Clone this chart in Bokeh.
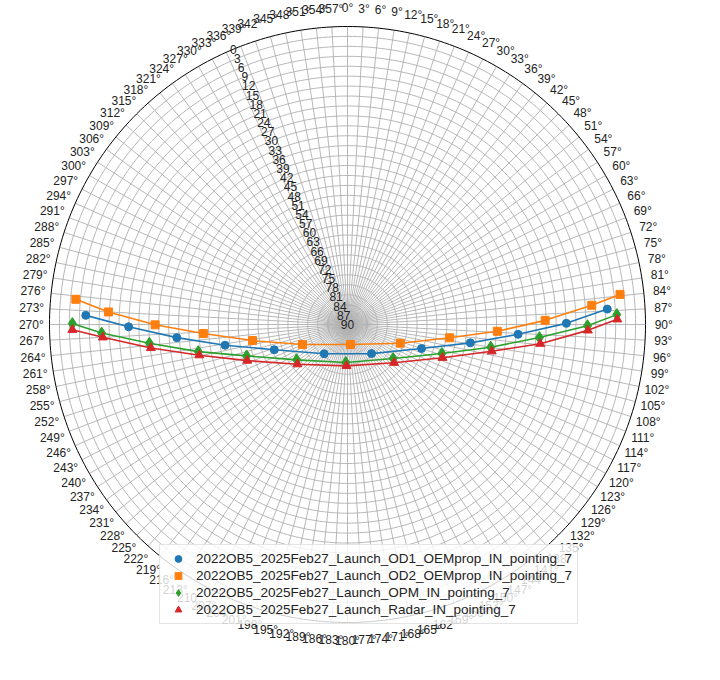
import numpy as np
from bokeh.plotting import figure
from bokeh.models import ColumnDataSource, Legend, LegendItem
from bokeh.embed import file_html
from bokeh.resources import INLINE

names = ["2022OB5_2025Feb27_Launch_OD1_OEMprop_IN_pointing_7",
         "2022OB5_2025Feb27_Launch_OD2_OEMprop_IN_pointing_7",
         "2022OB5_2025Feb27_Launch_OPM_IN_pointing_7",
         "2022OB5_2025Feb27_Launch_Radar_IN_pointing_7"]
od1_az = [272.0, 269.4, 265.6, 260.4, 251.0, 218.5, 140.4, 108.0, 98.5, 93.3, 89.7, 86.6]
od1_el = [10.9, 23.9, 38.3, 52.5, 66.6, 78.7, 78.6, 66.5, 52.5, 38.4, 23.9, 11.4]
od2_az = [275.3, 273.0, 269.9, 266.4, 260.4, 246.0, 171.5, 109.5, 97.4, 92.6, 88.8, 85.5, 83.7]
od2_el = [7.6, 17.7, 31.9, 46.4, 60.9, 75.1, 83.9, 73.1, 58.9, 44.7, 30.3, 16.0, 7.2]
opm_az = [270.2, 268.0, 264.6, 259.7, 252.7, 235.2, 182.6, 126.7, 107.1, 99.0, 93.9, 90.3, 87.9]
opm_el = [6.9, 15.7, 29.9, 44.2, 58.1, 71.3, 78.5, 72.8, 60.2, 46.2, 31.9, 17.5, 8.6]
rad_az = [268.9, 267.0, 263.2, 258.3, 250.2, 231.6, 181.4, 129.4, 109.3, 100.5, 95.7, 91.4, 88.9]
rad_el = [6.9, 16.0, 30.2, 44.3, 57.8, 70.7, 77.5, 71.8, 59.6, 45.7, 31.5, 17.4, 8.5]
az_ticks = list(range(0, 360, 3))
el_ticks = list(range(0, 91, 3))

def xy(az, el):
    a = np.radians(np.asarray(az, float))
    d = 90 - np.asarray(el, float)
    return d * np.sin(a), d * np.cos(a)

W, H = 704, 664
cx, cy, s = 347, 324, 298 / 90
p = figure(width=W, height=H, output_backend="svg", toolbar_location=None,
           x_range=(-cx / s, (W - cx) / s), y_range=(-(H - cy) / s, cy / s),
           min_border=0, match_aspect=False)
p.axis.visible = False
p.grid.visible = False
p.outline_line_color = None

t = np.linspace(0, 2 * np.pi, 361)
for r in range(3, 90, 3):
    p.line(r * np.sin(t), r * np.cos(t), line_color="#b0b0b0", line_width=0.9)
xs, ys = [], []
for a in az_ticks:
    ar = np.radians(a)
    xs.append([0, 90 * np.sin(ar)]); ys.append([0, 90 * np.cos(ar)])
p.multi_line(xs, ys, line_color="#b0b0b0", line_width=0.9)
p.line(90 * np.sin(t), 90 * np.cos(t), line_color="black", line_width=1)

lx, ly = xy(az_ticks, [-5.5] * len(az_ticks))
p.text(lx, ly, text=[f"{a}°" for a in az_ticks], text_align="center",
       text_baseline="middle", text_font_size="12px", text_color="#222222")
rx, ry = xy([337.5] * len(el_ticks), el_ticks)
p.text(rx, ry, text=[str(v) for v in el_ticks], text_align="center",
       text_baseline="middle", text_font_size="12px", text_color="#222222")

series = [(od1_az, od1_el, "#1f77b4", "circle", 8),
          (od2_az, od2_el, "#ff7f0e", "square", 8),
          (opm_az, opm_el, "#2ca02c", "diamond", 12),
          (rad_az, rad_el, "#d62728", "triangle", 9)]
items = []
for (az, el, c, m, sz), nm in zip(series, names):
    x, y = xy(az, el)
    p.line(x, y, line_color=c, line_width=1.6)
    r = p.scatter(x, y, marker=m, size=sz, fill_color=c, line_color=c)
    items.append(LegendItem(label=nm, renderers=[r]))

leg = Legend(items=items, location=(159, 40), label_text_font_size="13.5px",
             label_text_color="#222222", background_fill_alpha=0.8,
             border_line_color="#cccccc", spacing=0, padding=5,
             label_height=17, glyph_height=17, glyph_width=26)
p.add_layout(leg, "center")

open("out.html", "w").write(file_html(p, INLINE))
